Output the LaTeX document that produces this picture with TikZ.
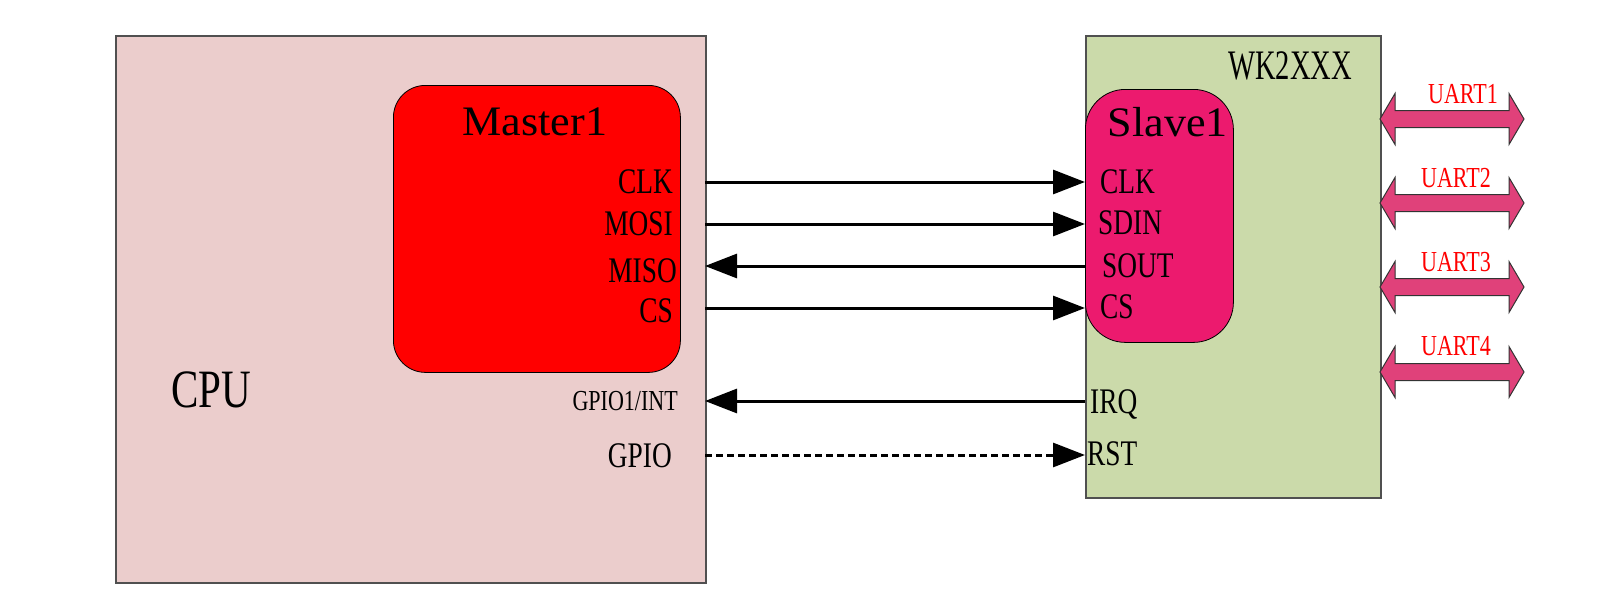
\documentclass[tikz,border=0pt]{standalone}
\usepackage{fontspec}
\setmainfont{Liberation Serif}
\newfontfamily\labf[FakeStretch=0.76]{Liberation Serif}
\newfontfamily\labn[FakeStretch=0.68]{Liberation Serif}
\newfontfamily\labw[FakeStretch=1.05]{Liberation Serif}
\usetikzlibrary{arrows.meta}
\definecolor{cpufill}{HTML}{EBCDCC}
\definecolor{wkfill}{HTML}{CBDAAA}
\definecolor{slavefill}{HTML}{EC1A6E}
\definecolor{uartfill}{HTML}{E0417A}
\definecolor{boxline}{HTML}{505050}
\begin{document}
\begin{tikzpicture}[x=1pt,y=-1pt,
  box/.style={draw=boxline, line width=1.5pt, inner sep=0pt, anchor=north west},
  chip/.style={draw=black, line width=0.8pt, inner sep=0pt, anchor=north west},
  pin/.style={font=\labf\fontsize{36}{40}\selectfont, inner sep=0pt},
  smallpin/.style={font=\labf\fontsize{29}{32}\selectfont, inner sep=0pt},
  title/.style={font=\labw\fontsize{42}{46}\selectfont, inner sep=0pt, anchor=base},
  sig/.style={line width=3pt, -{Triangle[length=32pt,width=24pt]}},
  uart/.style={fill=uartfill, draw=black!80, line width=1pt},
  uartlab/.style={text=red, font=\labf\fontsize{29}{32}\selectfont, inner sep=0pt, anchor=base},
]
\useasboundingbox (0,0) rectangle (1620,608);
% boxes
\node[box, fill=cpufill, minimum width=590pt, minimum height=547pt] (cpu) at (115,35) {};
\node[box, fill=wkfill, minimum width=295pt, minimum height=462pt] (wk) at (1085,35) {};
\node[chip, fill=red, rounded corners=32pt, minimum width=287pt, minimum height=287pt] (master) at (393,85) {};
\node[chip, fill=slavefill, rounded corners=40pt, minimum width=148pt, minimum height=253pt] (slave) at (1085,89) {};
% titles
\node[title] (mtitle) at (535,135) {Master1};
\node[title] (stitle) at (1168,136) {Slave1};
\node[font=\labn\fontsize{42}{46}\selectfont, inner sep=0pt, anchor=base] (wktitle) at (1290,79) {WK2XXX};
\node[font=\labf\fontsize{54}{58}\selectfont, inner sep=0pt, anchor=base] (cputitle) at (211,407) {CPU};
% master pins
\node[pin, anchor=base east] (mclk) at (673,193) {CLK};
\node[pin, anchor=base east] (mmosi) at (673,235) {MOSI};
\node[pin, anchor=base east] (mmiso) at (677,282) {MISO};
\node[pin, anchor=base east] (mcs) at (673,322) {CS};
\node[smallpin, anchor=base east] (mint) at (678,410) {GPIO1/INT};
\node[pin, anchor=base east] (mgpio) at (672,467) {GPIO};
% slave pins
\node[pin, anchor=base west] (sclk) at (1100,193) {CLK};
\node[pin, anchor=base west] (ssdin) at (1098,234) {SDIN};
\node[pin, anchor=base west] (ssout) at (1102,277) {SOUT};
\node[pin, anchor=base west] (scs) at (1100,318) {CS};
\node[pin, anchor=base west] (sirq) at (1090,413) {IRQ};
\node[pin, anchor=base west] (srst) at (1087,465) {RST};
% connector ends
\coordinate (a1) at (705,182); \coordinate (b1) at (1085,182);
\coordinate (a2) at (705,224); \coordinate (b2) at (1085,224);
\coordinate (a3) at (705,266); \coordinate (b3) at (1085,266);
\coordinate (a4) at (705,308); \coordinate (b4) at (1085,308);
\coordinate (a5) at (705,401); \coordinate (b5) at (1085,401);
\coordinate (a6) at (705,455); \coordinate (b6) at (1085,455);
\draw[sig] (a1) -- (b1);
\draw[sig] (a2) -- (b2);
\draw[sig] (b3) -- (a3);
\draw[sig] (a4) -- (b4);
\draw[sig] (b5) -- (a5);
\draw[sig, dash pattern=on 7pt off 4pt] (a6) -- (b6);
% UART double arrows
\foreach \c in {119,203,287,372} {
  \draw[uart] (1380,\c) -- (1395,{\c-25.5}) -- (1395,{\c-8.5}) -- (1509,{\c-8.5}) -- (1509,{\c-25.5})
    -- (1524,\c) -- (1509,{\c+25.5}) -- (1509,{\c+8.5}) -- (1395,{\c+8.5}) -- (1395,{\c+25.5}) -- cycle;
}
\node[uartlab] (u1) at (1463,103) {UART1};
\node[uartlab] (u2) at (1456,187) {UART2};
\node[uartlab] (u3) at (1456,271) {UART3};
\node[uartlab] (u4) at (1456,355) {UART4};
\end{tikzpicture}
\end{document}
